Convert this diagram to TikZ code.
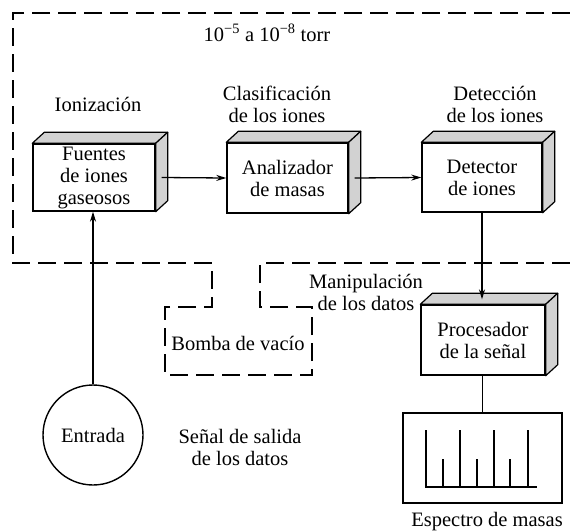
\documentclass[tikz,border=0pt]{standalone}
\usepackage{fontspec}
\setmainfont{Liberation Serif}
\usetikzlibrary{calc,arrows.meta}
\begin{document}
\begin{tikzpicture}[x=1pt,y=-1pt,
  every node/.style={font=\fontsize{20.5}{22}\selectfont, align=center},
  box3d/.style={draw, fill=white, line width=1.4pt, inner sep=0pt},
  face/.style={draw, fill=gray!35, line width=1.2pt, line join=round},
  conn/.style={line width=1.3pt},
  arr/.style={conn, -{Stealth[length=10pt,width=6pt]}},
  vac/.style={line width=1.2pt, dash pattern=on 18pt off 8pt},
  lbl/.style={inner sep=0pt}]
\useasboundingbox (0,0) rectangle (570,531);

% vacuum region outline
\draw[vac] (570,13) -- (13,13) -- (13,263) -- (212,263) -- (212,307) -- (165,307)
  -- (165,375) -- (312,375) -- (312,307) -- (260,307) -- (260,263) -- (570,263);

% 3D boxes
\node[box3d, minimum width=122pt, minimum height=67pt] (b1) at (94,177.5) {Fuentes\\de iones\\gaseosos};
\node[box3d, minimum width=121pt, minimum height=70pt] (b2) at (287.5,178) {Analizador\\de masas};
\node[box3d, minimum width=120pt, minimum height=69pt] (b3) at (482,177.5) {Detector\\de iones};
\node[box3d, minimum width=124pt, minimum height=70pt] (b4) at (483,340) {Procesador\\de la señal};
\foreach \n in {b1,b2,b3,b4}{
  \draw[face] (\n.north west) -- ++(12,-11) -- ($(\n.north east)+(12,-11)$) -- (\n.north east) -- cycle;
  \draw[face] (\n.north east) -- ++(12,-11) -- ($(\n.south east)+(12,-11)$) -- (\n.south east) -- cycle;
}

% input circle
\node[draw, circle, line width=1.4pt, minimum size=100pt, inner sep=0pt] (ent) at (93,435) {Entrada};

% spectrum box
\node[draw, line width=1.4pt, minimum width=159pt, minimum height=90pt, inner sep=0pt] (spec) at (482.5,458) {};
\draw[line width=1.3pt] (426,430) -- (426,487) -- (537,487);
\foreach \x in {460,494,528} \draw[line width=1.3pt] (\x,430) -- (\x,487);
\foreach \x in {443,477,510} \draw[line width=1.3pt] (\x,459) -- (\x,487);

% connectors
\coordinate (b1side) at ($(b1.east)+(6,0)$);
\coordinate (b2side) at ($(b2.east)+(6,0)$);
\coordinate (b4top) at ($(b4.north)+(0,-5)$);
\draw[arr] (b1side) -- (b2.west);
\draw[arr] (b2side) -- (b3.west);
\draw[arr] (b3.south) -- (b3.south |- b4top);
\draw[arr] (ent.north) -- (ent.north |- b1.south);
\draw[conn] (b4.south -| spec.north) -- (spec.north);

% labels
\node[lbl] (torr) at (267,33) {10\textsuperscript{−5} a 10\textsuperscript{−8} torr};
\node[lbl] (ion) at (98,104) {Ionización};
\node[lbl] (clas) at (277,104) {Clasificación\\de los iones};
\node[lbl] (det) at (495,104) {Detección\\de los iones};
\node[lbl] (manip) at (366,292) {Manipulación\\de los datos};
\node[lbl] (bomba) at (238,343) {Bomba de vacío};
\node[lbl] (senal) at (240,447) {Señal de salida\\de los datos};
\node[lbl] (espec) at (487,522) {Espectro de masas};
\end{tikzpicture}
\end{document}
